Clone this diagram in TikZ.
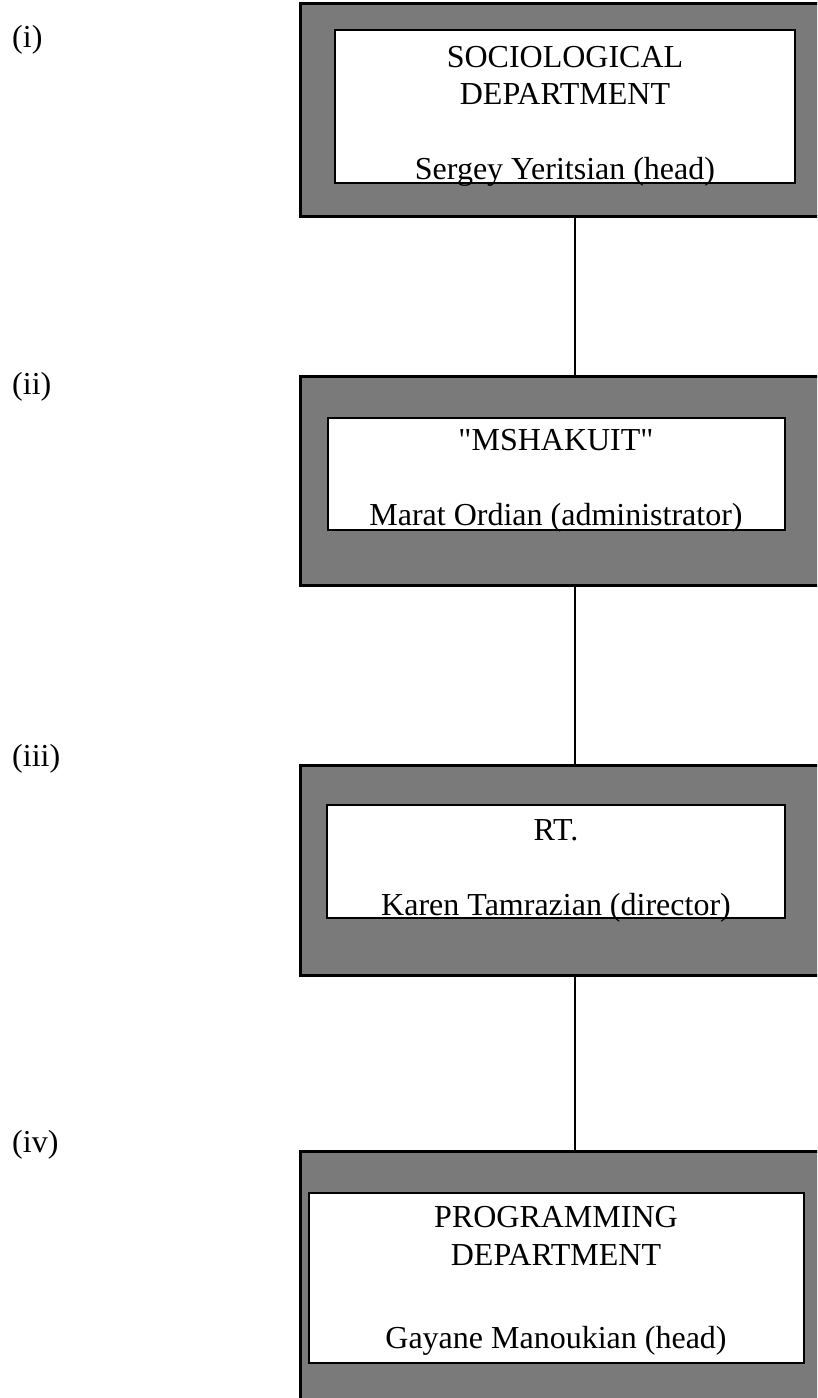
\documentclass[tikz,border=0pt]{standalone}
\usepackage{fontspec}
\setmainfont{Liberation Serif}
\begin{document}
\begin{tikzpicture}[x=1pt,y=-1pt,
  outerbox/.style={draw=black, line width=3pt, fill=black!52, rectangle, inner sep=0pt},
  innerbox/.style={draw=black, line width=2.5pt, fill=white, rectangle, inner sep=0pt},
  txt/.style={font=\fontsize{32}{37}\selectfont, inner sep=0pt, anchor=base},
  lbl/.style={font=\fontsize{32}{37}\selectfont, inner sep=0pt, anchor=base west},
  link/.style={draw=black, line width=2.5pt}]
\useasboundingbox (0,0) rectangle (817,1398);
\clip (0,0) rectangle (817,1398);
\fill[white] (0,0) rectangle (817,1398);
% outer shaded boxes
\node[outerbox, minimum width=522pt, minimum height=213pt] (o1) at (561,109.5) {};
\node[outerbox, minimum width=522pt, minimum height=209pt] (o2) at (561,480.5) {};
\node[outerbox, minimum width=522pt, minimum height=210pt] (o3) at (561,870) {};
\node[outerbox, minimum width=522pt, minimum height=254pt] (o4) at (561,1278) {};
% inner white boxes
\node[innerbox, minimum width=460pt, minimum height=153pt] (i1) at (565,106.5) {};
\node[innerbox, minimum width=457pt, minimum height=112pt] (i2) at (556.5,474) {};
\node[innerbox, minimum width=458pt, minimum height=113pt] (i3) at (556,861.5) {};
\node[innerbox, minimum width=495pt, minimum height=170pt] (i4) at (556.5,1278) {};
% texts
\node[txt] (t1a) at (565,67) {SOCIOLOGICAL};
\node[txt] (t1b) at (565,104) {DEPARTMENT};
\node[txt] (t1c) at (565,179) {Sergey Yeritsian (head)};
\node[txt] (t2a) at (556,450) {\textquotedbl MSHAKUIT\textquotedbl};
\node[txt] (t2b) at (556,525) {Marat Ordian (administrator)};
\node[txt] (t3a) at (556,840) {RT.};
\node[txt] (t3b) at (556,915) {Karen Tamrazian (director)};
\node[txt] (t4a) at (556,1227) {PROGRAMMING};
\node[txt] (t4b) at (556,1265) {DEPARTMENT};
\node[txt] (t4c) at (556,1348) {Gayane Manoukian (head)};
% labels
\node[lbl] (l1) at (12,47) {(i)};
\node[lbl] (l2) at (12,394) {(ii)};
\node[lbl] (l3) at (12,766) {(iii)};
\node[lbl] (l4) at (12,1152) {(iv)};
% connectors
\coordinate (cx) at (575,0);
\draw[link] (o1.south -| cx) -- (o2.north -| cx);
\draw[link] (o2.south -| cx) -- (o3.north -| cx);
\draw[link] (o3.south -| cx) -- (o4.north -| cx);
\end{tikzpicture}
\end{document}
